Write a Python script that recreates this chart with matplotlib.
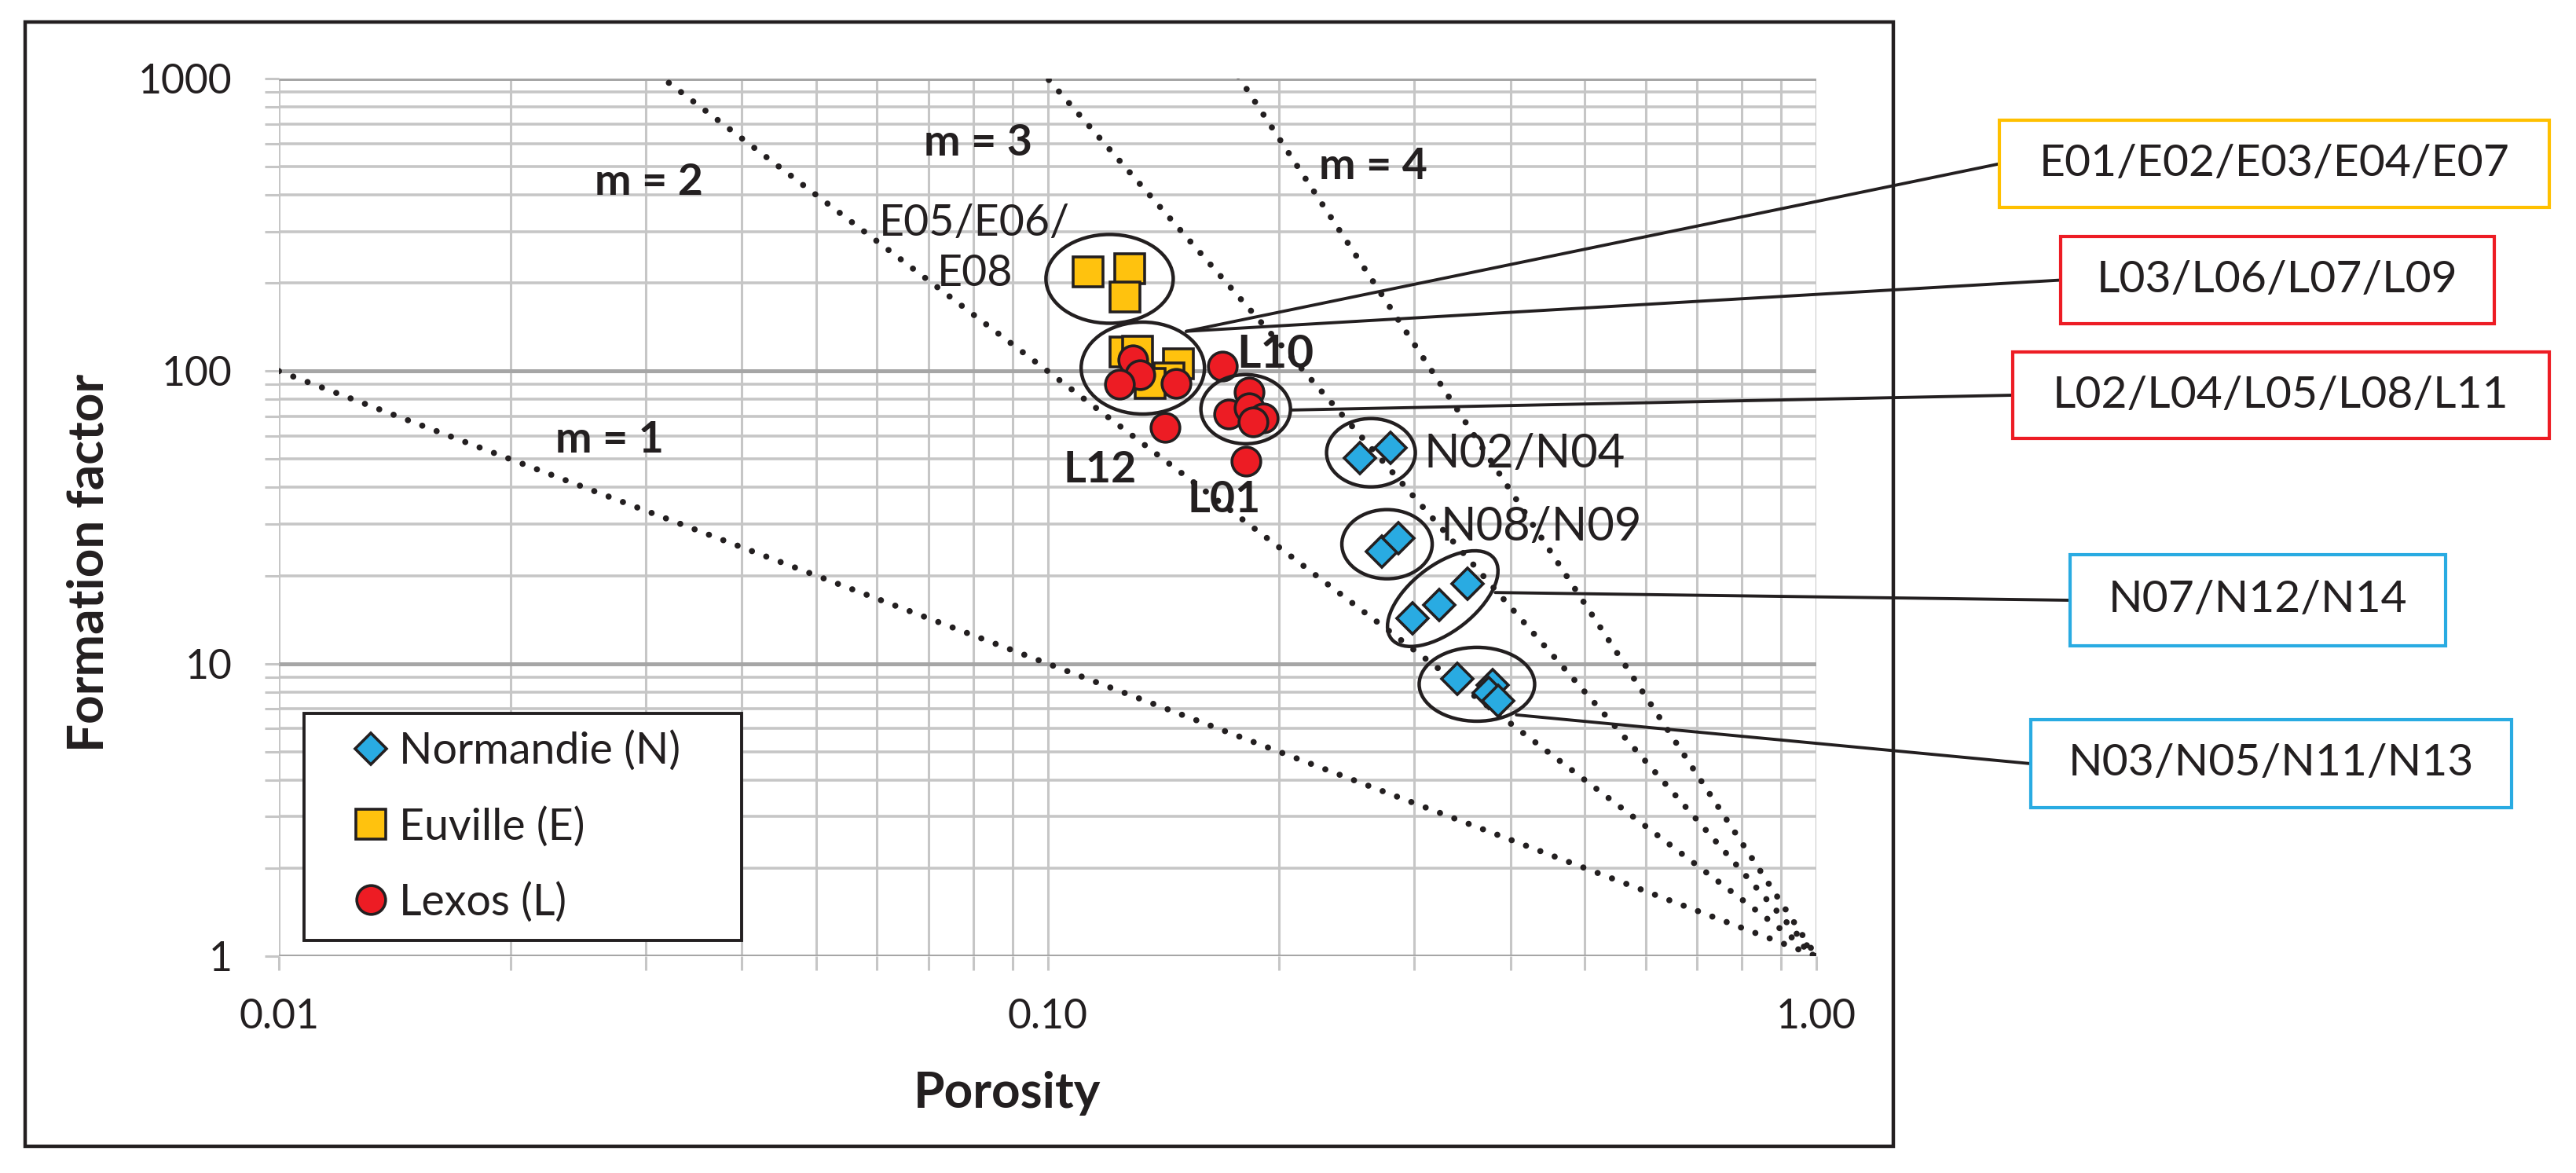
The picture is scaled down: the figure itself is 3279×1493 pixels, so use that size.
import matplotlib
matplotlib.use("Agg")
import matplotlib.pyplot as plt
from matplotlib.patches import Ellipse, Rectangle, ConnectionPatch
from matplotlib.transforms import ScaledTranslation
from matplotlib.ticker import FuncFormatter, NullFormatter, LogLocator

plt.rcParams['font.family'] = ['Lato', 'DejaVu Sans']

# Porosity and formation factor of each sample, per quarry
normandie_phi = [0.255, 0.279, 0.272, 0.286, 0.298, 0.323, 0.352, 0.341, 0.379, 0.375, 0.386]
normandie_F = [50.4, 54.7, 24.2, 26.9, 14.3, 15.9, 18.7, 8.86, 8.46, 7.95, 7.48]

euville_phi = [0.113, 0.128, 0.126, 0.126, 0.131, 0.148, 0.144, 0.136]
euville_F = [218, 224, 179, 116, 117, 106, 95, 91]

lexos_phi = [0.129, 0.132, 0.124, 0.147, 0.169, 0.183, 0.172, 0.183, 0.191, 0.185, 0.142, 0.181]
lexos_F = [109, 97, 90, 91, 104, 85, 71.5, 75, 69, 67, 64, 49.3]

# Archie reference lines F = phi^-m
archie_m = [1, 2, 3, 4]
phi_ends = [0.01, 1.0]
m_label_xy = [(0.0269, 58.2), (0.0303, 442), (0.0812, 603), (0.2653, 501)]

# sample labels next to the points
point_labels = ["E05/E06/\nE08", "L10", "L12", "L01", "N02/N04", "N08/N09"]
point_label_xy = [(0.0804, 262), (0.198, 114), (0.117, 46.1), (0.1695, 36.4),
                  (0.417, 52.0), (0.4385, 29.3)]
point_label_bold = [False, True, True, True, False, False]
point_label_size = [20, 21, 20, 20, 21.5, 21.5]

# grouping ellipses: centre in data units, (width px, height px, angle)
ellipse_xy = [(0.1204, 206.7), (0.133, 102.4), (0.181, 74.1), (0.2634, 52.6),
              (0.2764, 25.6), (0.3266, 16.68), (0.3618, 8.50)]
ellipse_size = [(162, 113, 0), (157, 117, 0), (114, 88, 0), (113, 87, 0),
                (115, 88, 0), (166, 84, 38), (147, 94, 0)]

# callout boxes on the right
box_text = ["E01/E02/E03/E04/E07", "L03/L06/L07/L09", "L02/L04/L05/L08/L11",
            "N07/N12/N14", "N03/N05/N11/N13"]
box_anchor = [(0.1515, 136.8), (0.1515, 136.8), (0.2072, 73.6), (0.3822, 17.5), (0.4071, 6.68)]
box_color = ['#FFC000', '#ED1C24', '#ED1C24', '#29ABE2', '#29ABE2']
# box extents in figure pixels: left, top, right, bottom
box_px = [(2545, 153, 3245, 264), (2623, 301, 3175, 412), (2562, 448, 3245, 558),
          (2635, 706, 3113, 822), (2585, 916, 3197, 1028)]

W, H, DPI = 3280, 1493, 200
fig = plt.figure(figsize=(W / DPI, H / DPI), dpi=DPI)
ax = fig.add_axes([355 / W, 1 - 1217 / H, (2312 - 355) / W, (1217 - 100) / H])

ax.set_xscale('log')
ax.set_yscale('log')
ax.set_xlim(0.01, 1.0)
ax.set_ylim(1, 1000)

# grid like the spreadsheet chart
ax.grid(which='both', axis='x', color='#C6C6C6', lw=1.1)
ax.grid(which='minor', axis='y', color='#C6C6C6', lw=1.3)
ax.grid(which='major', axis='y', color='#A6A6A6', lw=1.8)
ax.set_axisbelow(True)
for s in ax.spines.values():
    s.set_visible(False)
ax.yaxis.set_minor_locator(LogLocator(base=10, subs=range(2, 10)))
ax.xaxis.set_minor_locator(LogLocator(base=10, subs=range(2, 10)))
ax.xaxis.set_minor_formatter(NullFormatter())
ax.yaxis.set_minor_formatter(NullFormatter())
ax.xaxis.set_major_formatter(FuncFormatter(lambda v, p: f"{v:.2f}"))
ax.yaxis.set_major_formatter(FuncFormatter(lambda v, p: f"{v:g}"))
ax.tick_params(which='both', direction='out', length=6.5, width=1.1, color='#C6C6C6',
               labelsize=18.6, labelcolor='#231F20')
ax.tick_params(axis='y', pad=15)
ax.tick_params(axis='x', pad=13)

ax.set_xlabel('Porosity', fontsize=23, fontweight='bold', color='#231F20')
ax.xaxis.set_label_coords(0.474, -0.131)
ax.set_ylabel('Formation factor', fontsize=23, fontweight='bold', color='#231F20')
ax.yaxis.set_label_coords(-0.109, 0.4485)

# Archie lines
for m in archie_m:
    ax.plot(phi_ends, [p ** -m for p in phi_ends], color='#231F20', lw=2.8,
            ls=(0, (0.01, 2.5)), dash_capstyle='round', zorder=2)
for m, (x, y) in zip(archie_m, m_label_xy):
    ax.text(x, y, f"m = {m}", fontsize=20, fontweight='bold', color='#231F20',
            ha='center', va='center', zorder=3)

# samples
ax.plot(normandie_phi, normandie_F, 'D', ms=10.4, mfc='#29ABE2', mec='#231F20', mew=1.3,
        ls='none', label='Normandie (N)', zorder=4)
ax.plot(euville_phi, euville_F, 's', ms=13.7, mfc='#FFC20E', mec='#231F20', mew=1.3,
        ls='none', label='Euville (E)', zorder=4)
ax.plot(lexos_phi, lexos_F, 'o', ms=13.2, mfc='#ED1C24', mec='#231F20', mew=1.3,
        ls='none', label='Lexos (L)', zorder=5)

for t, (x, y), b, fs in zip(point_labels, point_label_xy, point_label_bold, point_label_size):
    ax.text(x, y, t, fontsize=fs, fontweight='bold' if b else 'normal', color='#231F20',
            ha='center', va='center', linespacing=1.3, multialignment='center', zorder=6)

# grouping ellipses
for (x, y), (w, h, a) in zip(ellipse_xy, ellipse_size):
    e = Ellipse((0, 0), w / DPI, h / DPI, angle=a, fill=False, ec='#231F20', lw=1.6,
                transform=fig.dpi_scale_trans + ScaledTranslation(x, y, ax.transData),
                zorder=6)
    ax.add_artist(e)

leg = ax.legend(loc='lower left', bbox_to_anchor=(0.0164, 0.0179, 0.2846, 0.299),
                mode='expand', borderaxespad=0, fontsize=20, handlelength=2.27,
                handletextpad=-0.49, borderpad=0.4, labelspacing=0.8, fancybox=False,
                edgecolor='#231F20', framealpha=1, labelcolor='#231F20')
leg.get_frame().set_linewidth(1.4)
leg.set_zorder(7)

# outer chart frame
fig.add_artist(Rectangle((32 / W, 1 - 1459 / H), (2410 - 32) / W, (1459 - 28) / H,
                         transform=fig.transFigure, fill=False, ec='#231F20', lw=1.6))

# callout boxes with leader lines
for t, (ax_x, ax_y), c, (l, tp, r, b) in zip(box_text, box_anchor, box_color, box_px):
    fig.add_artist(Rectangle((l / W, 1 - b / H), (r - l) / W, (b - tp) / H,
                             transform=fig.transFigure, fc='white', ec=c, lw=1.5, zorder=3))
    fig.text((l + r) / 2 / W, 1 - (tp + b) / 2 / H, t, fontsize=20.5, color='#231F20',
             ha='center', va='center', zorder=4)
    con = ConnectionPatch(xyA=(ax_x, ax_y), coordsA=ax.transData,
                          xyB=(l / W, 1 - (tp + b) / 2 / H), coordsB=fig.transFigure,
                          color='#231F20', lw=1.4, zorder=2)
    fig.add_artist(con)

fig.savefig('out.png', dpi=DPI, facecolor='white')
